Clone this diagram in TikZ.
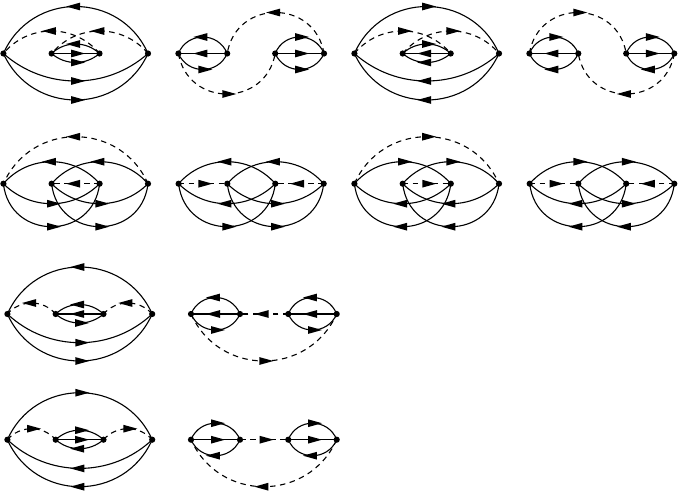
\documentclass[tikz,border=0pt]{standalone}
\usetikzlibrary{calc,decorations.markings}
\tikzset{
  vtx/.style={circle,fill=black,inner sep=0pt,minimum size=6.2pt},
  wire/.style={line width=1.1pt,black,
    decoration={markings,mark=at position 0.5 with {\fill (-4.5pt,-3.9pt) -- (9.5pt,0pt) -- (-4.5pt,3.9pt) -- cycle;}},
    postaction={decorate}},
  dashwire/.style={wire,dash pattern=on 5.5pt off 4.5pt}
}
% four vertices of one diagram
\newcommand\verts[6]{%
  \node[vtx] (#1a) at (#2,#6) {};
  \node[vtx] (#1b) at (#3,#6) {};
  \node[vtx] (#1c) at (#4,#6) {};
  \node[vtx] (#1d) at (#5,#6) {};}
% circular arc from #2 to #3; #4 = sagitta, positive to the left of travel
\newcommand\lnk[4][wire]{%
  \pgfpointdiff{\pgfpointanchor{#2}{center}}{\pgfpointanchor{#3}{center}}%
  \pgfgetlastxy{\dxx}{\dyy}%
  \pgfmathsetmacro\LL{veclen(\dxx,\dyy)}%
  \pgfmathsetmacro\ph{2*atan(2*abs(#4)/\LL)}%
  \pgfmathsetmacro\RR{\LL/8*(\LL/abs(#4))+abs(#4)/2}%
  \pgfmathsetmacro\dd{4/3*tan(\ph/2)*\RR}%
  \pgfmathsetmacro\ang{(#4)>0?\ph:-\ph}%
  \draw[#1] (#2.center) .. controls ($(#2.center)!\dd pt!\ang:(#3.center)$) and ($(#3.center)!\dd pt!-\ang:(#2.center)$) .. (#3.center);}
\newcommand\str[3][wire]{\draw[#1] (#2.center) -- (#3.center);}
\begin{document}
\begin{tikzpicture}[x=1pt,y=-1pt]
\useasboundingbox (0,0) rectangle (678,496);
% ---- row 1
\verts{A}{3.4}{51.6}{99.5}{148}{53.5}
\lnk{Ad}{Aa}{-47}
\lnk[dashwire]{Ac}{Aa}{-22.5}
\lnk[dashwire]{Ad}{Ab}{-22.5}
\lnk{Ac}{Ab}{-9.5}
\str{Ab}{Ac}
\lnk{Ab}{Ac}{-9}
\lnk{Aa}{Ad}{-27.5}
\lnk{Aa}{Ad}{-46.5}

\verts{B}{178.4}{227.2}{275.2}{324}{53.5}
\lnk{Bb}{Ba}{-16.5}
\str{Bb}{Ba}
\lnk{Ba}{Bb}{-16}
\lnk{Bc}{Bd}{16.5}
\str{Bc}{Bd}
\lnk{Bc}{Bd}{-16}
\lnk[dashwire]{Bd}{Bb}{-41}
\lnk[dashwire]{Ba}{Bc}{-40.5}

\verts{C}{354.4}{402.7}{450.7}{499}{53.5}
\lnk{Ca}{Cd}{47}
\lnk[dashwire]{Ca}{Cc}{22.5}
\lnk[dashwire]{Cb}{Cd}{22.5}
\lnk{Cb}{Cc}{9.5}
\str{Cc}{Cb}
\lnk{Cc}{Cb}{9}
\lnk{Cd}{Ca}{27.5}
\lnk{Cd}{Ca}{46.5}

\verts{D}{529.4}{578.3}{626.2}{674.3}{53.5}
\lnk{Da}{Db}{16.5}
\str{Db}{Da}
\lnk{Db}{Da}{16}
\lnk{Dc}{Dd}{16.5}
\str{Dc}{Dd}
\lnk{Dd}{Dc}{16}
\lnk[dashwire]{Da}{Dc}{41}
\lnk[dashwire]{Dd}{Db}{40.5}
% ---- row 2
\verts{E}{3.4}{51.6}{99.6}{148}{183.7}
\lnk[dashwire]{Ed}{Ea}{-47}
\str[dashwire]{Ec}{Eb}
\lnk{Ec}{Ea}{-22}
\lnk{Ed}{Eb}{-22}
\lnk{Ea}{Ec}{-20}
\lnk{Eb}{Ed}{-20}
\lnk{Ea}{Ec}{-43}
\lnk{Eb}{Ed}{-43}

\verts{F}{178.6}{227.3}{275.3}{323.7}{183.7}
\str[dashwire]{Fa}{Fb}
\str[dashwire]{Fd}{Fc}
\lnk{Fc}{Fa}{-22}
\lnk{Fd}{Fb}{-22}
\lnk{Fc}{Fa}{20}
\lnk{Fb}{Fd}{-20}
\lnk{Fa}{Fc}{-43}
\lnk{Fb}{Fd}{-43}

\verts{G}{354.4}{402.7}{450.8}{499}{183.7}
\lnk[dashwire]{Ga}{Gd}{47}
\str[dashwire]{Gb}{Gc}
\lnk{Ga}{Gc}{22}
\lnk{Gb}{Gd}{22}
\lnk{Gc}{Ga}{20}
\lnk{Gd}{Gb}{20}
\lnk{Gc}{Ga}{43}
\lnk{Gd}{Gb}{43}

\verts{H}{529.7}{578.3}{626.2}{674.3}{183.7}
\str[dashwire]{Ha}{Hb}
\str[dashwire]{Hd}{Hc}
\lnk{Ha}{Hc}{22}
\lnk{Hb}{Hd}{22}
\lnk{Hc}{Ha}{20}
\lnk{Hb}{Hd}{-20}
\lnk{Hc}{Ha}{43}
\lnk{Hd}{Hb}{43}
% ---- row 3
\verts{I}{7.4}{55.7}{103.5}{152.2}{314}
\lnk{Id}{Ia}{-47}
\lnk[dashwire]{Ib}{Ia}{-11}
\lnk[dashwire]{Id}{Ic}{-11}
\lnk{Ic}{Ib}{-9.5}
\str{Ic}{Ib}
\lnk{Ib}{Ic}{-9}
\lnk{Ia}{Id}{-28.7}
\lnk{Ia}{Id}{-47}

\verts{J}{191}{240}{288.3}{336.7}{314}
\lnk{Jb}{Ja}{-16.5}
\str{Jb}{Ja}
\lnk{Ja}{Jb}{-16}
\lnk{Jd}{Jc}{-16.5}
\str{Jd}{Jc}
\lnk{Jc}{Jd}{-16}
\str[dashwire]{Jc}{Jb}
\lnk[dashwire]{Ja}{Jd}{-47}
% ---- row 4
\verts{K}{7.4}{55.7}{103.5}{152.2}{439.7}
\lnk{Ka}{Kd}{47}
\lnk[dashwire]{Ka}{Kb}{11}
\lnk[dashwire]{Kc}{Kd}{11}
\lnk{Kb}{Kc}{9.5}
\str{Kb}{Kc}
\lnk{Kc}{Kb}{9}
\lnk{Kd}{Ka}{28.7}
\lnk{Kd}{Ka}{47}

\verts{L}{191}{240}{288.3}{336.7}{439.7}
\lnk{La}{Lb}{16.5}
\str{La}{Lb}
\lnk{Lb}{La}{16}
\lnk{Lc}{Ld}{16.5}
\str{Lc}{Ld}
\lnk{Ld}{Lc}{16}
\str[dashwire]{Lb}{Lc}
\lnk[dashwire]{Ld}{La}{47}
\end{tikzpicture}
\end{document}
